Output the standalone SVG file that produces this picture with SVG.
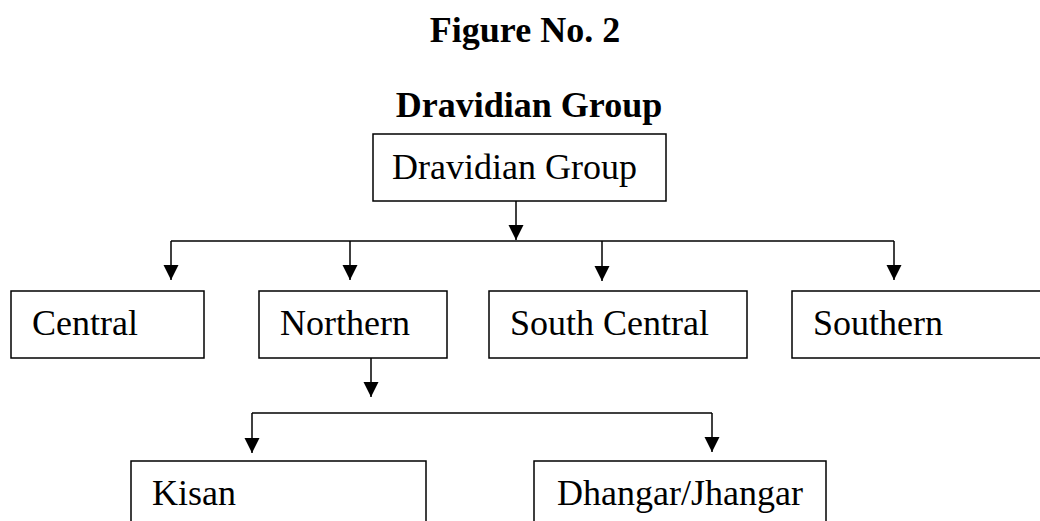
<svg xmlns="http://www.w3.org/2000/svg" width="1040" height="521" viewBox="0 0 1040 521">
<style>
.box{fill:#fff;stroke:#000;stroke-width:1.5}
.t{font-family:"Liberation Serif","Times New Roman",serif;font-size:36px;fill:#000}
.b{font-weight:bold;text-anchor:middle}
.c{fill:none;stroke:#000;stroke-width:1.5}
</style>
<defs>
<marker id="ah" markerUnits="userSpaceOnUse" markerWidth="16" markerHeight="16" refX="15" refY="7.5" orient="auto">
<path d="M0,0 L15,7.5 L0,15 z" fill="#000"/>
</marker>
</defs>
<rect width="1040" height="521" fill="#fff"/>
<text class="t b" x="525" y="42">Figure No. 2</text>
<text class="t b" x="529" y="117">Dravidian Group</text>
<g id="connectors">
<line class="c" x1="516" y1="201" x2="516" y2="240" marker-end="url(#ah)"/>
<line class="c" x1="171" y1="241" x2="894" y2="241"/>
<line class="c" x1="171" y1="241" x2="171" y2="280" marker-end="url(#ah)"/>
<line class="c" x1="350" y1="241" x2="350" y2="280" marker-end="url(#ah)"/>
<line class="c" x1="602" y1="241" x2="602" y2="281" marker-end="url(#ah)"/>
<line class="c" x1="894" y1="241" x2="894" y2="280" marker-end="url(#ah)"/>
<line class="c" x1="371" y1="358" x2="371" y2="397" marker-end="url(#ah)"/>
<line class="c" x1="252" y1="413" x2="712" y2="413"/>
<line class="c" x1="252" y1="413" x2="252" y2="453" marker-end="url(#ah)"/>
<line class="c" x1="712" y1="413" x2="712" y2="452" marker-end="url(#ah)"/>
</g>
<g id="n-root"><rect class="box" x="373" y="134" width="293" height="67"/><text class="t" x="392" y="179">Dravidian Group</text></g>
<g id="n-central"><rect class="box" x="11" y="291" width="193" height="67"/><text class="t" x="32" y="335">Central</text></g>
<g id="n-northern"><rect class="box" x="259" y="291" width="188" height="67"/><text class="t" x="280" y="335">Northern</text></g>
<g id="n-southcentral"><rect class="box" x="489" y="291" width="258" height="67"/><text class="t" x="510" y="335">South Central</text></g>
<g id="n-southern"><rect class="box" x="792" y="291" width="260" height="67"/><text class="t" x="813" y="335">Southern</text></g>
<g id="n-kisan"><rect class="box" x="131" y="461" width="295" height="80"/><text class="t" x="152" y="505">Kisan</text></g>
<g id="n-dhangar"><rect class="box" x="534" y="461" width="292" height="80"/><text class="t" x="557" y="505">Dhangar/Jhangar</text></g>
</svg>
